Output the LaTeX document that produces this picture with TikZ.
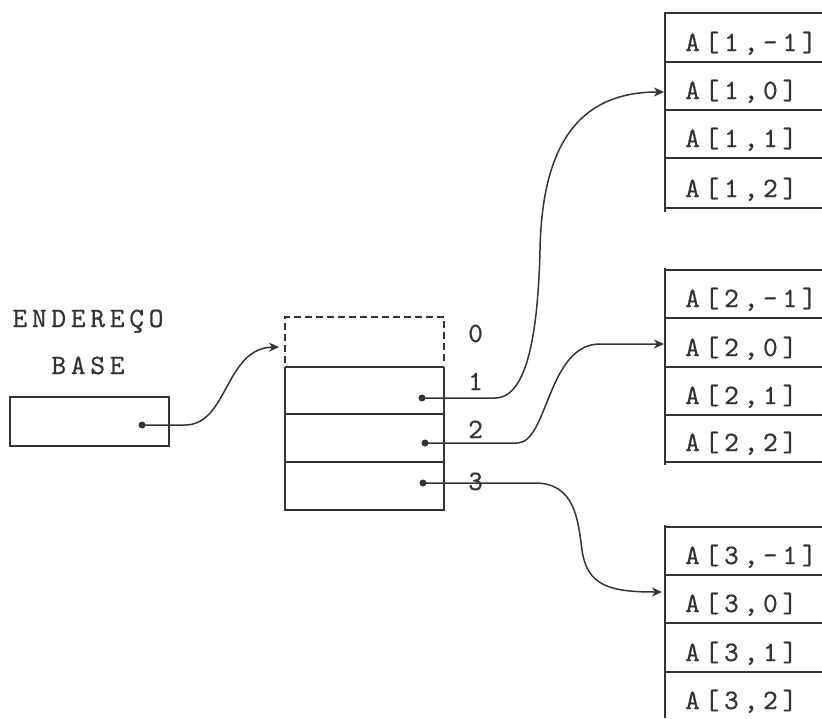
\documentclass[tikz,border=0pt]{standalone}
\usepackage{fontspec}
\usetikzlibrary{arrows.meta}
\definecolor{ink}{HTML}{333333}
\newfontfamily\twbase{lmmono10-regular.otf}[LetterSpace=17,FakeBold=0.6]
\newcommand\twfont{\twbase\fontsize{28}{28}\selectfont}
\tikzset{
  lbl/.style={font=\twfont, text=ink, inner sep=0pt},
  rule/.style={draw=ink, line width=1.5pt},
  dashrule/.style={draw=ink, line width=1.5pt, dash pattern=on 7pt off 4pt},
  link/.style={draw=ink, line width=1.5pt, -{Stealth[length=10pt,width=9pt,inset=3pt]}},
  dotmark/.style={fill=ink}
}
\begin{document}
\begin{tikzpicture}[x=1pt,y=-1pt]
\useasboundingbox (0,0) rectangle (822,718);

% ---- base address box
\node[lbl, anchor=base] (end) at (88,327) {ENDEREÇO};
\node[lbl, anchor=base] (base) at (88,374) {BASE};
\draw[rule] (10,397) rectangle (169,446);
\coordinate (db) at (142,425);

% ---- middle array
\draw[dashrule] (285,363) -- (285,317) -- (444,317) -- (444,363);
\draw[rule] (285,367) -- (285,510) -- (444,510) -- (444,367);
\draw[rule] (285,367) -- (444,367);
\draw[rule] (285,414) -- (444,414);
\draw[rule] (285,462) -- (444,462);
\coordinate (mtop) at (279,347);
\node[lbl, anchor=base west] (i0) at (468,342) {0};
\node[lbl, anchor=base west] (i1) at (468,390) {1};
\node[lbl, anchor=base west] (i2) at (468,438) {2};
\node[lbl, anchor=base west] (i3) at (468,490) {3};
\coordinate (d1) at (422,398);
\coordinate (d2) at (425,443);
\coordinate (d3) at (423,483);

% ---- row 1
\draw[rule] (665,12) -- (665,212);
\foreach \y in {13,62,110,158,208} \draw[rule] (665,\y) -- (822,\y);
\node[lbl, anchor=base west] (a1m) at (685,51) {A[1,-1]};
\node[lbl, anchor=base west] (a10) at (685,99) {A[1,0]};
\node[lbl, anchor=base west] (a11) at (685,147) {A[1,1]};
\node[lbl, anchor=base west] (a12) at (685,197) {A[1,2]};
\coordinate (t1) at (664,92);

% ---- row 2
\draw[rule] (665,268) -- (665,465);
\foreach \y in {270,318,367,415,462} \draw[rule] (665,\y) -- (822,\y);
\node[lbl, anchor=base west] (a2m) at (685,307) {A[2,-1]};
\node[lbl, anchor=base west] (a20) at (685,356) {A[2,0]};
\node[lbl, anchor=base west] (a21) at (685,404) {A[2,1]};
\node[lbl, anchor=base west] (a22) at (685,451) {A[2,2]};
\coordinate (t2) at (664,344);

% ---- row 3
\draw[rule] (665,525) -- (665,718);
\foreach \y in {527,575,623,672} \draw[rule] (665,\y) -- (822,\y);
\node[lbl, anchor=base west] (a3m) at (685,564) {A[3,-1]};
\node[lbl, anchor=base west] (a30) at (685,612) {A[3,0]};
\node[lbl, anchor=base west] (a31) at (685,661) {A[3,1]};
\node[lbl, anchor=base west] (a32) at (685,709) {A[3,2]};
\coordinate (t3) at (662,592);

% ---- pointers
\draw[link] (db) -- (185,425) .. controls (228,425) and (225,348) .. (mtop);
\draw[link] (d1) -- (495,398) .. controls (528,398) and (538,330) .. (540,250)
  .. controls (542,150) and (575,92) .. (t1);
\draw[link] (d2) -- (518,443) .. controls (548,441) and (548,344) .. (600,344) -- (t2);
\draw[link] (d3) -- (535,483) .. controls (575,483) and (578,520) .. (582,550)
  .. controls (587,586) and (610,592) .. (t3);

\foreach \p in {db,d1,d2,d3} \fill[dotmark] (\p) circle (3.5pt);
\end{tikzpicture}
\end{document}
